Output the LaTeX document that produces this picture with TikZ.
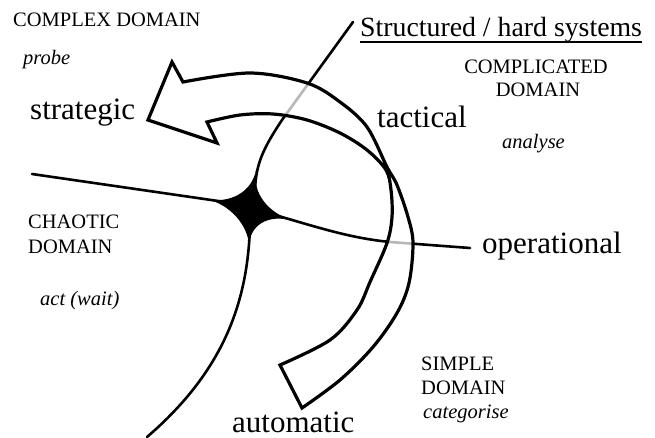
\documentclass[tikz,border=0pt]{standalone}
\usepackage{fontspec}
\setmainfont{Liberation Serif}
\usetikzlibrary{calc}
\begin{document}
\begin{tikzpicture}[x=1pt,y=-1pt,
  domline/.style={line width=2.6pt, line cap=round},
  arrowband/.style={line width=3.2pt, line join=miter, fill=white, fill opacity=0.72},
  small/.style={font=\fontsize{20.5}{24}\selectfont, inner sep=0pt},
  smallit/.style={font=\fontsize{20.5}{24}\selectfont\itshape, inner sep=0pt},
  big/.style={font=\fontsize{31}{36}\selectfont, inner sep=0pt}]
\useasboundingbox (0,0) rectangle (655,438);
\fill[white] (0,0) rectangle (655,438);

% domain boundary lines
\draw[domline] (353,22) -- (282,120) .. controls (262,150) and (256,165) .. (255,190);
\draw[domline] (32,174) -- (225,202);
\draw[domline] (275,215) .. controls (320,228) and (350,238) .. (390,242) -- (470,248);
\draw[domline] (250,225) .. controls (248,300) and (225,370) .. (147,437);

% central star
\fill (256,170) .. controls (252,192) and (267,213) .. (294,221)
  .. controls (267,213) and (249,226) .. (249,247)
  .. controls (249,226) and (230,204) .. (206,199)
  .. controls (230,204) and (252,192) .. (256,170) -- cycle;

% curved arrow
\draw[arrowband] (172,62) -- plot[smooth, tension=0.55] coordinates {(183,82) (250,73) (307,83) (340,102) (367,127) (387,167) (397,185) (408,217) (413,243) (409,283) (397,313) (373,347) (340,380) (302,408)}
  -- plot[smooth, tension=0.55] coordinates {(280,365) (330,340) (357,310) (370,282) (387,243) (392,217) (391,190) (386,170) (367,150) (340,133) (307,120) (273,114) (240,115) (207,122)}
  -- (217,143) -- (148,120) -- cycle;

% texts
\node[small, anchor=base west] (complex) at (13,27) {COMPLEX DOMAIN};
\node[smallit, anchor=base west] (probe) at (23,65) {probe};
\node[big, anchor=base west] (strategic) at (30,120) {strategic};
\node[font=\fontsize{27.8}{32}\selectfont, inner sep=0pt, anchor=base west] (hard) at (360,37) {Structured / hard systems};
\draw[line width=1.4pt] ($(hard.base west)+(0,5)$) -- ($(hard.base east)+(0,5)$);
\node[small, anchor=base] (compl1) at (536,74) {COMPLICATED};
\node[small, anchor=base] (compl2) at (538,97) {DOMAIN};
\node[big, anchor=base west] (tactical) at (377,128) {tactical};
\node[smallit, anchor=base west] (analyse) at (502,149) {analyse};
\node[small, anchor=base west] (chaos1) at (28,229) {CHAOTIC};
\node[small, anchor=base west] (chaos2) at (28,253) {DOMAIN};
\node[smallit, anchor=base west] (act) at (40,305) {act (wait)};
\node[big, anchor=base west] (operational) at (482,253) {operational};
\node[small, anchor=base west] (simple1) at (421,370) {SIMPLE};
\node[small, anchor=base west] (simple2) at (421,394) {DOMAIN};
\node[smallit, anchor=base west] (categorise) at (423,418) {categorise};
\node[big, anchor=base west] (automatic) at (232,432) {automatic};
\end{tikzpicture}
\end{document}
